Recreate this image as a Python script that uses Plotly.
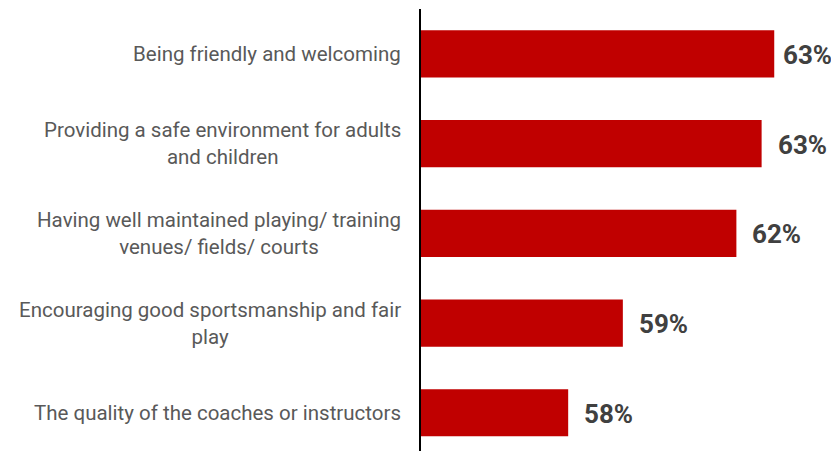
import plotly.graph_objects as go

categories = [
    "Being friendly and welcoming",
    "Providing a safe environment for adults<br>and children",
    "Having well maintained playing/ training<br>venues/ fields/ courts",
    "Encouraging good sportsmanship and fair<br>play",
    "The quality of the coaches or instructors",
]
values = [62.9, 62.6, 62.0, 59.3, 58.0]

BAR_COLOR = "#C00000"
LABEL_COLOR = "#595959"
VALUE_COLOR = "#404040"
FONT = "Roboto, Arial, sans-serif"

W, H = 831, 443
ML, MR, MT, MB = 413, 0, 1, 0
XR = [54.5, 64.44]
LABEL_W = 58  # approx width of a value label box in px

fig = go.Figure()
fig.add_trace(go.Bar(
    x=values,
    y=categories,
    orientation="h",
    marker=dict(color=BAR_COLOR, line=dict(width=0)),
    hoverinfo="skip",
))

plot_w = W - ML - MR
annotations = []
for cat, v in zip(categories, values):
    annotations.append(dict(
        x=0, xref="paper", y=cat, yref="y",
        text=cat, showarrow=False, xanchor="right", yanchor="middle",
        align="center", xshift=-18,
        font=dict(family=FONT, size=20.5, color=LABEL_COLOR),
    ))
    # keep the value label inside the figure: shrink the gap if needed
    bar_end = (v - XR[0]) / (XR[1] - XR[0]) * plot_w
    shift = min(14, plot_w - LABEL_W - bar_end)
    annotations.append(dict(
        x=v, xref="x", y=cat, yref="y",
        text=f"<b>{v:.0f}%</b>", showarrow=False, xanchor="left", yanchor="middle",
        xshift=shift, yshift=-1,
        font=dict(family=FONT, size=26, color=VALUE_COLOR),
    ))

fig.update_layout(
    width=W, height=H,
    margin=dict(l=ML, r=MR, t=MT, b=MB),
    paper_bgcolor="white", plot_bgcolor="white",
    showlegend=False,
    bargap=0.476,
    annotations=annotations,
    xaxis=dict(range=XR, visible=False, showgrid=False, zeroline=False),
    yaxis=dict(
        categoryorder="array", categoryarray=categories,
        range=[4.425, -0.5],
        showticklabels=False, ticks="",
        showgrid=False, zeroline=False,
        showline=True, linecolor="#000000", linewidth=1.5,
    ),
)

fig.write_html("out.html")
